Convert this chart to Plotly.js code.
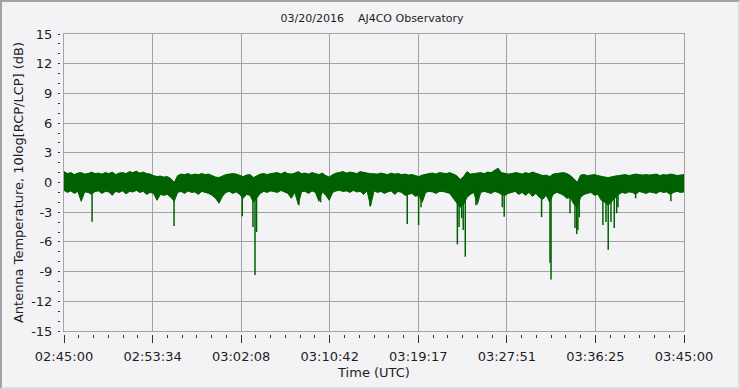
<!DOCTYPE html>
<html>
<head>
<meta charset="utf-8">
<script src="https://cdn.plot.ly/plotly-3.0.1.min.js"></script>
<style>
  html, body { margin: 0; padding: 0; background: #f3f3f5; }
  #wrap { position: relative; width: 740px; height: 389px; overflow: hidden; }
  #chart { position: absolute; left: 0; top: 0; width: 740px; height: 389px; }
  #frame { position: absolute; left: 0; top: 0; width: 736px; height: 385px;
           border-top: 2px solid #a2a2a2; border-left: 2px solid #a2a2a2;
           border-right: 2px solid #dcdcdc; border-bottom: 2px solid #dcdcdc;
           pointer-events: none; }
</style>
</head>
<body>
<div id="wrap"><div id="chart"></div><div id="frame"></div></div>
<script>
// ---- data ----
// sampling step of the envelope series, seconds from 02:45:00
const STEP_S = 20;
// upper envelope of the noise band (dB)
const upper = [
  1.1,0.9,1.0,0.8,0.95,1.0,0.85,0.9,1.05,0.9,
  0.95,0.85,1.0,0.9,1.05,0.8,0.95,1.0,0.9,1.1,
  1.0,1.15,0.95,1.05,0.9,0.85,0.7,0.6,0.65,0.55,
  0.6,0.4,0.0,0.7,0.85,0.8,0.9,0.75,0.85,0.8,
  0.9,0.8,0.85,0.7,0.55,0.5,0.65,0.8,0.85,0.9,
  0.85,0.7,0.6,0.75,0.8,0.5,0.7,0.85,0.9,0.8,
  0.9,0.95,1.0,0.85,1.05,0.9,0.85,0.95,1.1,0.9,
  0.95,0.85,1.0,0.9,0.8,0.95,0.7,0.55,0.8,0.95,
  1.0,1.1,0.95,1.05,1.0,0.9,1.1,1.0,0.95,0.9,
  0.9,0.85,0.95,0.9,0.8,0.95,0.85,0.9,0.8,0.85,
  0.75,0.8,0.7,0.6,0.75,0.85,0.9,0.95,0.85,1.0,
  0.95,0.9,1.0,0.85,0.7,0.3,0.6,1.1,0.85,0.9,
  0.95,1.0,0.9,1.05,1.0,1.2,1.45,1.0,0.9,0.85,
  0.9,1.0,0.95,0.85,1.0,0.9,1.05,0.95,0.8,0.7,
  0.75,0.6,0.85,0.9,0.95,1.0,0.9,0.7,0.4,0.0,
  0.75,0.8,0.7,0.75,0.8,0.7,0.6,0.55,0.5,0.6,
  0.65,0.7,0.75,0.8,0.7,0.75,0.85,0.8,0.75,0.8,
  0.75,0.8,0.85,0.7,0.8,0.75,0.85,0.8,0.7,0.75,0.8
];
// lower envelope of the noise band (dB)
const lower = [
  -0.8,-1.0,-0.85,-1.1,-0.9,-1.9,-0.95,-1.0,-1.2,-0.9,
  -0.85,-1.1,-0.9,-0.95,-1.3,-0.9,-1.0,-0.85,-1.15,-0.9,
  -0.95,-0.8,-1.0,-0.9,-1.2,-1.0,-1.1,-1.8,-1.2,-1.3,
  -1.2,-1.5,-1.9,-1.0,-0.9,-1.1,-0.85,-1.0,-0.95,-1.2,
  -0.9,-1.0,-1.1,-1.3,-1.6,-2.1,-1.4,-1.0,-0.9,-1.1,
  -0.95,-1.2,-1.6,-1.2,-1.3,-2.0,-1.5,-1.1,-0.9,-1.0,
  -0.85,-0.9,-1.0,-0.8,-0.95,-1.1,-1.6,-1.0,-2.2,-0.9,
  -0.9,-1.1,-0.85,-1.0,-1.9,-0.95,-1.3,-1.8,-1.0,-0.85,
  -0.8,-0.9,-0.85,-1.0,-0.8,-0.95,-0.9,-1.2,-0.85,-2.4,
  -0.85,-1.0,-0.9,-1.1,-0.95,-0.85,-1.2,-0.9,-1.0,-1.3,
  -1.2,-1.1,-1.4,-1.3,-2.0,-1.0,-0.9,-0.95,-1.1,-0.9,
  -0.9,-1.0,-1.1,-1.6,-2.0,-2.5,-2.2,-1.5,-1.2,-1.0,
  -2.2,-1.0,-0.9,-1.0,-1.1,-0.9,-1.0,-1.2,-1.3,-1.1,
  -1.0,-0.9,-1.2,-1.0,-1.3,-1.0,-1.4,-1.1,-1.5,-1.7,
  -1.3,-2.0,-1.2,-1.0,-1.1,-1.3,-1.6,-1.5,-2.2,-2.5,
  -1.5,-1.2,-1.1,-1.0,-1.3,-1.2,-1.8,-2.0,-2.3,-1.9,
  -1.6,-1.2,-1.0,-1.1,-0.95,-1.0,-1.2,-0.9,-1.0,-1.1,
  -0.95,-1.0,-1.1,-0.9,-1.0,-0.95,-1.2,-1.0,-0.9,-1.0,-0.95
];
// deep dips: time (s after 02:45:00) and minimum value (dB)
const dipTimes = [163, 639, 1035, 1097, 1109, 1118, 1364, 1490, 1777, 1993, 2059, 2073,
                  2284, 2294, 2309, 2318, 2330, 2392, 2545, 2556, 2773, 2822, 2828, 2938,
                  2967, 2977, 2984, 2992, 3129, 3147, 3160, 3176, 3195, 3209, 3217, 3319, 3524];
const dipValues = [-3.96, -4.4, -3.4, -4.5, -9.35, -5.0, -2.3, -2.0, -2.4, -4.2, -4.3, -2.5,
                   -6.25, -4.5, -3.6, -4.8, -7.5, -2.3, -2.5, -3.45, -3.5, -8.1, -9.8, -3.1,
                   -4.6, -5.2, -4.8, -3.5, -4.3, -4.0, -6.8, -4.0, -4.6, -3.1, -2.5, -1.6, -1.9];
// axes
const xTickSeconds = [0, 514.29, 1028.57, 1542.86, 2057.14, 2571.43, 3085.71, 3600];
const xTickLabels = ["02:45:00", "02:53:34", "03:02:08", "03:10:42", "03:19:17", "03:27:51", "03:36:25", "03:45:00"];
const yTickValues = [-15, -12, -9, -6, -3, 0, 3, 6, 9, 12, 15];
const yTickLabels = ["-15", "-12", "-9", "-6", "-3", "0", "3", "6", "9", "12", "15"];

// ---- drawing ----
const GREEN = '#006100';
const GRID = '#a3a3a3';
const TXT = '#1e1e1e';
const BG = '#f3f3f5';
const times = upper.map((_, i) => i * STEP_S);

const dipX = [], dipY = [];
dipTimes.forEach((t, i) => { dipX.push(t, t, null); dipY.push(0, dipValues[i], null); });

const traces = [
  { x: times, y: lower, mode: 'lines', line: { color: GREEN, width: 1 }, hoverinfo: 'skip', showlegend: false },
  { x: times, y: upper, mode: 'lines', fill: 'tonexty', fillcolor: GREEN,
    line: { color: GREEN, width: 1 }, hoverinfo: 'skip', showlegend: false },
  { x: dipX, y: dipY, mode: 'lines', line: { color: GREEN, width: 1.5 }, hoverinfo: 'skip', showlegend: false },
  { x: [], y: [], xaxis: 'x2', yaxis: 'y2', showlegend: false }
];

const W = 740, H = 389;
const mL = 60, mR = 56, mT = 34, mB = 55;
const pw = W - mL - mR, ph = H - mT - mB;
const xDom = [4 / pw, 1], yDom = [3 / ph, 1];
const tickFont = { family: 'DejaVu Sans', size: 13, color: TXT };

const layout = {
  width: W, height: H,
  margin: { l: mL, r: mR, t: mT, b: mB, pad: 0 },
  paper_bgcolor: BG, plot_bgcolor: BG,
  showlegend: false,
  title: { text: '03/20/2016\u00A0\u00A0\u00A0\u00A0AJ4CO Observatory',
           font: { family: 'DejaVu Sans', size: 11, color: TXT },
           x: 0.5, xref: 'paper', xanchor: 'center', y: 1 - 18 / H, yref: 'container', yanchor: 'middle' },
  xaxis: { range: [0, 3600], domain: xDom, anchor: 'y', tickmode: 'array', tickvals: xTickSeconds,
           showticklabels: false, ticks: '', showgrid: true, gridcolor: GRID, gridwidth: 1,
           showline: true, mirror: true, linecolor: GRID, linewidth: 1, zeroline: false, fixedrange: true },
  yaxis: { range: [-15, 15], domain: yDom, anchor: 'x', tickmode: 'array', tickvals: yTickValues,
           showticklabels: false, ticks: '', showgrid: true, gridcolor: GRID, gridwidth: 1,
           showline: true, mirror: true, linecolor: GRID, linewidth: 1, zeroline: false, fixedrange: true },
  xaxis2: { overlaying: 'x', anchor: 'free', position: 0, domain: xDom, range: [0, 3600],
            tickmode: 'array', tickvals: xTickSeconds, ticktext: xTickLabels, tickfont: tickFont,
            ticks: 'outside', ticklen: 8, tickwidth: 1, tickcolor: '#333',
            minor: { ticks: 'outside', ticklen: 3, tickwidth: 1, tickcolor: '#333', tickmode: 'linear', tick0: 0, dtick: 3600 / 42, showgrid: false },
            ticklabelstandoff: 2,
            showgrid: false, showline: false, zeroline: false, fixedrange: true,
            title: { text: 'Time (UTC)', font: { family: 'DejaVu Sans', size: 13, color: TXT }, standoff: 5 } },
  yaxis2: { overlaying: 'y', anchor: 'free', position: 0, domain: yDom, range: [-15, 15],
            tickmode: 'array', tickvals: yTickValues, ticktext: yTickLabels, tickfont: tickFont,
            ticks: 'outside', ticklen: 2, tickwidth: 1, tickcolor: '#333',
            minor: { ticks: 'outside', ticklen: 2, tickwidth: 1, tickcolor: '#333', tickmode: 'linear', tick0: 0, dtick: 1, showgrid: false },
            ticklabelstandoff: 3,
            showgrid: false, showline: false, zeroline: false, fixedrange: true,
            title: { text: 'Antenna Temperature, 10log[RCP/LCP] (dB)', font: { family: 'DejaVu Sans', size: 13, color: TXT }, standoff: 3 } }
};

Plotly.newPlot('chart', traces, layout, { displayModeBar: false, staticPlot: true });
</script>
</body>
</html>
